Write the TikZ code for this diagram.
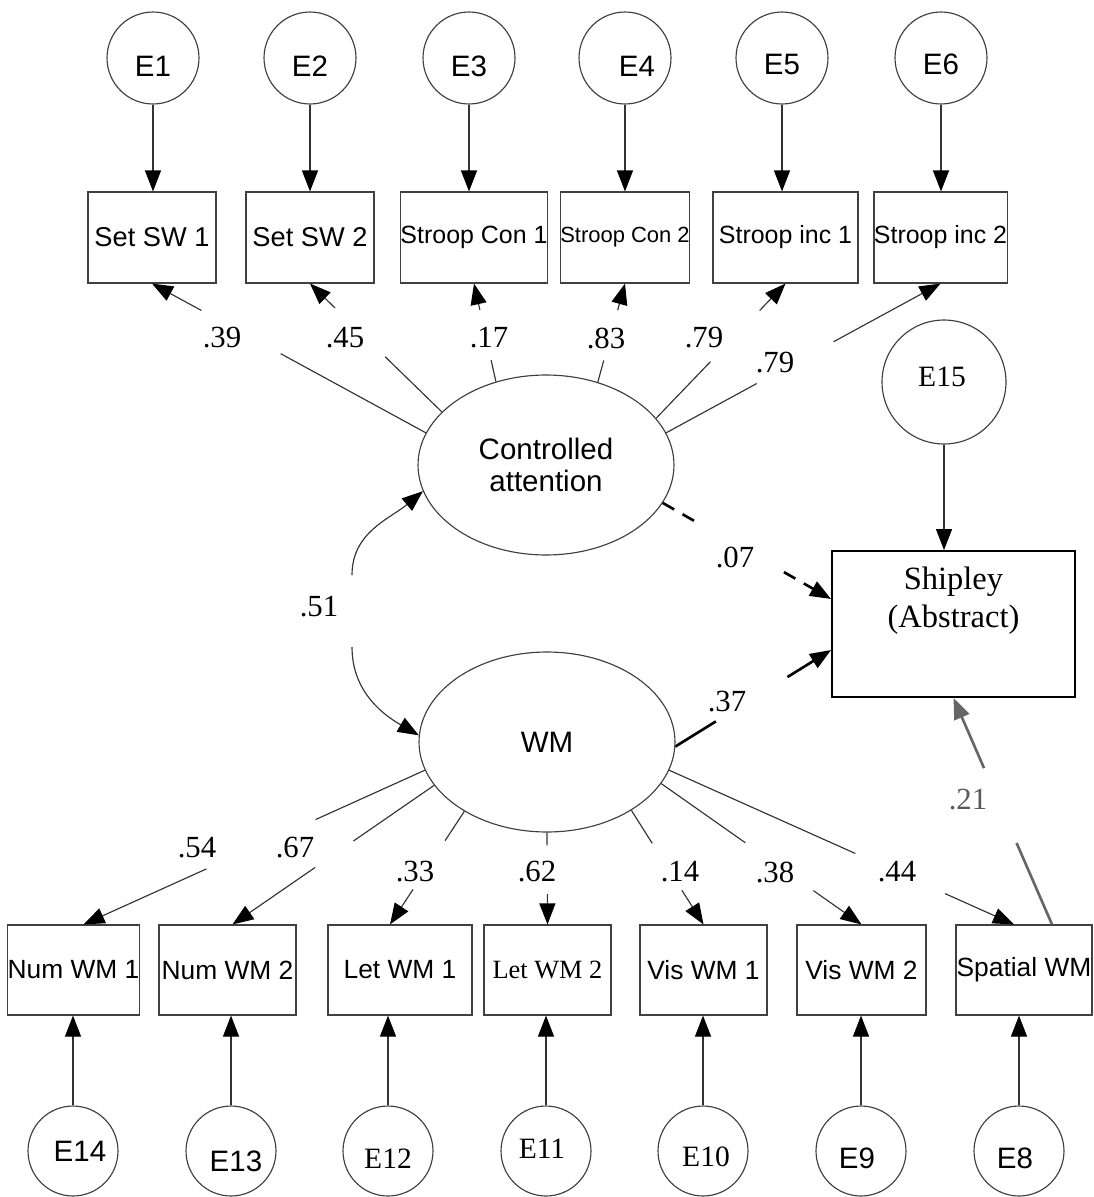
\documentclass[tikz,border=0pt]{standalone}
\usepackage{fontspec}
\setmainfont{Liberation Serif}
\setsansfont{Liberation Sans}
\usetikzlibrary{arrows.meta,shapes.geometric,calc}

% a loading drawn as two pieces of one straight line, leaving a gap for its value
\newcommand{\gapline}[5][]{%
  \draw[line,#1] (#2) -- ($(#2)!#4!(#3)$);
  \draw[line,tip,#1] ($(#2)!#5!(#3)$) -- (#3);}

\begin{document}
\begin{tikzpicture}[x=0.02cm,y=0.02cm,
  line/.style={draw=black!80, line width=0.65pt},
  tip/.style={-{Triangle[length=0.42cm,width=0.32cm,color=black]}},
  graytip/.style={-{Triangle[length=0.42cm,width=0.32cm,color=black!60]}},
  obs/.style={rectangle, draw=black!75, line width=0.65pt, inner sep=0pt,
    minimum height=1.82cm, font=\sffamily\fontsize{14.2}{16}\selectfont},
  obsb/.style={obs, minimum height=1.8cm, font=\sffamily\fontsize{15}{16}\selectfont},
  err/.style={circle, draw=black!75, line width=0.65pt, inner sep=0pt, minimum size=1.8cm},
  esans/.style={font=\sffamily\fontsize{16.8}{18}\selectfont, inner sep=0pt},
  eserif/.style={font=\rmfamily\fontsize{16.8}{18}\selectfont, inner sep=0pt},
  lat/.style={ellipse, draw=black!75, line width=0.65pt, inner sep=0pt,
    minimum width=5.12cm, minimum height=3.6cm, align=center,
    font=\sffamily\fontsize{16.8}{18.7}\selectfont},
  coef/.style={font=\rmfamily\fontsize{17.5}{19}\selectfont, inner sep=0pt},
  thickdash/.style={draw=black, line width=1.5pt, dash pattern=on 7.5pt off 5.5pt},
  thicksolid/.style={draw=black, line width=1.5pt},
  grayline/.style={draw=black!60, line width=1.5pt},
]
\fill[white] (0,0) rectangle (1094,-1197);
\useasboundingbox (0,0) rectangle (1094,-1197);

% ---------- top indicators and their errors ----------
\node[obs, minimum width=2.56cm, font=\sffamily\fontsize{15.5}{17}\selectfont] (b1) at (152,-237.5) {Set SW 1};
\node[obs, minimum width=2.56cm, font=\sffamily\fontsize{15.5}{17}\selectfont] (b2) at (310,-237.5) {Set SW 2};
\node[obs, minimum width=2.88cm] (b3) at (474,-237.5) {Stroop Con 1};
\node[obs, minimum width=2.56cm, font=\sffamily\fontsize{12.5}{14}\selectfont] (b4) at (625,-237.5) {\raisebox{3pt}{Stroop Con 2}};
\node[obs, minimum width=2.9cm] (b5) at (785.5,-237.5) {Stroop inc 1};
\node[obs, minimum width=2.58cm] (b6) at (940.5,-237.5) {Stroop inc 2};

\node[err, minimum size=1.84cm] (e1) at (153,-58) {};
\node[err, minimum size=1.84cm] (e2) at (310,-58) {};
\node[err, minimum size=1.84cm] (e3) at (469,-58) {};
\node[err, minimum size=1.84cm] (e4) at (625,-58) {};
\node[err, minimum size=1.84cm] (e5) at (782,-58) {};
\node[err, minimum size=1.84cm] (e6) at (941,-58) {};
\node[esans] at ($(e1)+(0,-8)$) {E1};
\node[esans] at ($(e2)+(0,-8)$) {E2};
\node[esans] at ($(e3)+(0,-8)$) {E3};
\node[esans] at ($(e4)+(12,-8)$) {E4};
\node[esans] at ($(e5)+(0,-6)$) {E5};
\node[esans] at ($(e6)+(0,-6)$) {E6};

\foreach \e/\b in {e1/b1,e2/b2,e3/b3,e4/b4,e5/b5,e6/b6}
  \draw[line,tip] (\e.south) -- (\e.south |- \b.north);

% ---------- latent factors ----------
\node[lat] (ca) at (546,-465) {Controlled\\attention};
\node[lat] (wm) at (547,-742) {WM};

% ---------- criterion ----------
\node[rectangle, draw=black, line width=1.1pt, minimum width=4.86cm, minimum height=2.92cm] (ship) at (953.5,-624) {};
\node[font=\rmfamily\fontsize{18.5}{21.7}\selectfont, align=center, inner sep=0pt] at (953.5,-601) {Shipley\\(Abstract)};
\node[err, minimum size=2.48cm] (e15) at (944,-382) {};
\node[eserif] at ($(e15)+(-2,5)$) {E15};
\draw[line,tip] (e15.south) -- (e15.south |- ship.north);

% ---------- bottom indicators and their errors ----------
\node[obsb, minimum width=2.54cm] (n1) at (73.5,-970) {Num WM 1};
\node[obsb, minimum width=2.74cm] (n2) at (227.5,-970) {Num WM 2};
\node[obsb, minimum width=2.88cm] (n3) at (400,-970) {Let WM 1};
\node[obsb, minimum width=2.54cm, font=\rmfamily\fontsize{15}{16}\selectfont] (n4) at (547.5,-970) {Let WM 2};
\node[obsb, minimum width=2.54cm] (n5) at (703.5,-970) {Vis WM 1};
\node[obsb, minimum width=2.58cm] (n6) at (861.5,-970) {Vis WM 2};
\node[obsb, minimum width=2.72cm] (n7) at (1024,-970) {Spatial WM};

\node[err] (e14) at (73,-1151) {};
\node[err] (e13) at (231,-1151) {};
\node[err] (e12) at (388,-1151) {};
\node[err] (e11) at (546,-1151) {};
\node[err] (e10) at (703,-1151) {};
\node[err] (e9) at (861,-1151) {};
\node[err] (e8) at (1019,-1151) {};
\node[esans] at ($(e14)+(7,0)$) {E14};
\node[esans] at ($(e13)+(5,-10)$) {E13};
\node[eserif] at ($(e12)+(0,-8)$) {E12};
\node[eserif] at ($(e11)+(-4,2)$) {E11};
\node[eserif] at ($(e10)+(3,-6)$) {E10};
\node[esans] at ($(e9)+(-4,-7)$) {E9};
\node[esans] at ($(e8)+(-4,-7)$) {E8};

\foreach \e/\b in {e14/n1,e13/n2,e12/n3,e11/n4,e10/n5,e9/n6,e8/n7}
  \draw[line,tip] (\e.north) -- (\e.north |- \b.south);

% ---------- loadings of controlled attention ----------
\gapline{ca.165}{b1.south}{0.53}{0.82}
\gapline{ca.153}{b2.south}{0.43}{0.81}
\gapline{ca.121}{b3.south}{0.22}{0.73}
\gapline{ca.58}{b4.south}{0.22}{0.73}
\gapline{ca.23}{b5.south}{0.42}{0.80}
\gapline{ca.15}{b6.south}{0.33}{0.61}
\node[coef] at (222,-338) {.39};
\node[coef] at (345,-338) {.45};
\node[coef] at (489,-338) {.17};
\node[coef] at (606,-338) {.83};
\node[coef] at (704,-338) {.79};
\node[coef] at (775,-363) {.79};

% ---------- loadings of working memory ----------
\coordinate (t1) at ($(n1.north)+(10,0)$);
\coordinate (t2) at ($(n2.north)+(5,0)$);
\coordinate (t3) at ($(n3.north)+(-10,0)$);
\coordinate (t7) at ($(n7.north)+(-10,0)$);
\gapline{wm.193}{t1}{0.32}{0.64}
\gapline{wm.201}{t2}{0.40}{0.59}
\gapline{wm.220}{t3}{0.26}{0.69}
\gapline{wm.270}{n4.north}{0.14}{0.67}
\gapline{wm.321}{n5.north}{0.29}{0.70}
\gapline{wm.340}{n6.north}{0.42}{0.76}
\gapline{wm.347}{t7}{0.54}{0.80}
\node[coef] at (197,-848) {.54};
\node[coef] at (295,-848) {.67};
\node[coef] at (415,-872) {.33};
\node[coef] at (537,-872) {.62};
\node[coef] at (680,-872) {.14};
\node[coef] at (775,-872) {.38};
\node[coef] at (897,-872) {.44};

% ---------- paths to Shipley ----------
\coordinate (s07) at ($(ship.west)+(0,25)$);
\coordinate (s37) at ($(ship.west)+(0,-26)$);
\gapline[thickdash]{ca.342}{s07}{0.23}{0.72}
\gapline[thicksolid]{wm.358}{s37}{0.26}{0.72}
\node[coef] at (735,-557) {.07};
\node[coef] at (727,-702) {.37};

% spatial span to Shipley (grey)
\coordinate (t21) at ($(n7.north)+(28,0)$);
\draw[grayline] (t21) -- ($(t21)!0.36!(ship.south)$);
\draw[grayline,graytip] ($(t21)!0.69!(ship.south)$) -- (ship.south);
\node[coef, text=black!65] at (968,-800) {.21};

% ---------- factor correlation ----------
\coordinate (c51a) at (352,-575);
\coordinate (c51b) at (352,-647);
\draw[line,tip] (c51a) to[out=90,in=220] (ca.192);
\draw[line,tip] (c51b) to[out=270,in=150] (wm.177);
\node[coef] at (319,-607) {.51};
\end{tikzpicture}
\end{document}
